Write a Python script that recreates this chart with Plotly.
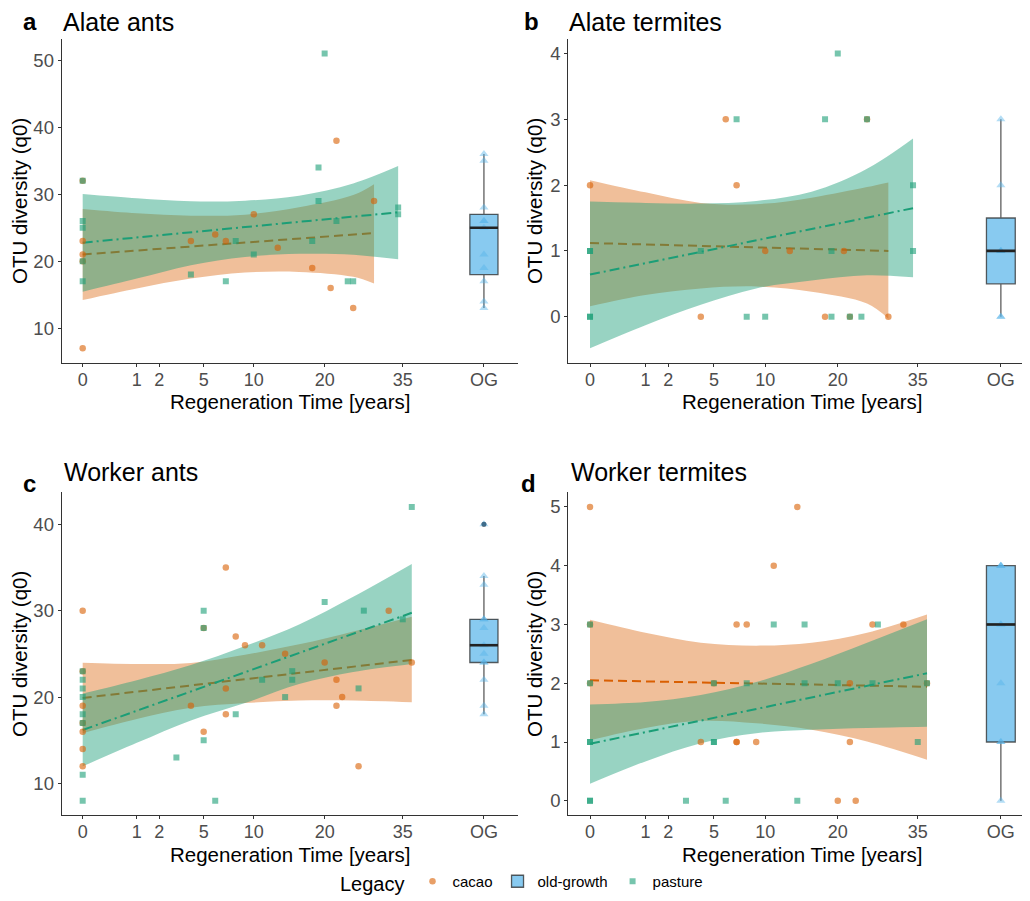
import numpy as np
import plotly.graph_objects as go

# ---------------- data ----------------
X_TICK_YEARS = [0, 1, 2, 5, 10, 20, 35, 55]
X_TICK_TEXT = ["0", "1", "2", "5", "10", "20", "35", "OG"]
OG_YEARS = 55  # position of the old-growth box on the sqrt-years axis

PANEL_LETTERS = ["a", "b", "c", "d"]
PANEL_TITLES = ["Alate ants", "Alate termites", "Worker ants", "Worker termites"]
X_TITLE = "Regeneration Time [years]"
Y_TITLE = "OTU diversity (q0)"

# panel a  - Alate ants
a_cacao_years = [0, 0, 0, 0, 0, 4, 6, 7, 10, 13, 18, 21, 22, 25, 29]
a_cacao_q0 = [32, 23, 21, 20, 7, 23, 24, 23, 27, 22, 19, 16, 38, 13, 29]
a_pasture_years = [0, 0, 0, 0, 0, 4, 7, 8, 10, 18, 19, 19, 20, 22, 24, 25, 34, 34]
a_pasture_q0 = [32, 26, 25, 20, 17, 18, 17, 23, 21, 23, 34, 29, 51, 26, 17, 17, 28, 27]
a_og_q0 = [13, 14, 17, 19, 21, 25, 26, 26, 28, 35, 36]
a_cacao_fit_years = [0, 29]
a_cacao_fit = [21.0, 24.2]
a_pasture_fit_years = [0, 34]
a_pasture_fit = [22.76, 27.3]
a_cacao_band_years = [0, 1, 4, 9, 16, 25, 29]
a_cacao_lo = [14.2, 15.93, 17.4, 18.3, 18.4, 17.67, 16.67]
a_cacao_hi = [27.8, 27.16, 26.8, 26.95, 28.05, 29.87, 31.5]
a_pasture_band_years = [0, 1, 4, 9, 16, 25, 34]
a_pasture_lo = [15.44, 17.4, 19.4, 20.63, 21.1, 20.98, 20.28]
a_pasture_hi = [30.02, 29.38, 28.94, 29.03, 29.77, 31.6, 34.2]

# panel b  - Alate termites
b_cacao_years = [0, 4, 6, 7, 10, 13, 18, 21, 22, 25, 29]
b_cacao_q0 = [2, 0, 3, 2, 1, 1, 0, 1, 0, 3, 0]
b_pasture_years = [0, 0, 0, 0, 4, 7, 8, 10, 18, 19, 19, 20, 22, 24, 25, 34, 34]
b_pasture_q0 = [1, 1, 0, 0, 1, 3, 0, 0, 3, 1, 0, 4, 0, 0, 3, 2, 1]
b_og_q0 = [0, 0, 1, 1, 1, 2, 3]
b_cacao_fit_years = [0, 29]
b_cacao_fit = [1.12, 1.0]
b_pasture_fit_years = [0, 34]
b_pasture_fit = [0.64, 1.65]
b_cacao_band_years = [0, 1, 4, 9, 16, 25, 29]
b_cacao_lo = [0.16, 0.33, 0.43, 0.46, 0.38, 0.20, -0.03]
b_cacao_hi = [2.075, 1.89, 1.73, 1.71, 1.81, 1.97, 2.04]
b_pasture_band_years = [0, 1, 4, 9, 16, 25, 34]
b_pasture_lo = [-0.48, -0.13, 0.18, 0.43, 0.55, 0.63, 0.60]
b_pasture_hi = [1.75, 1.73, 1.72, 1.76, 1.90, 2.25, 2.71]

# panel c  - Worker ants
c_cacao_years = [0, 0, 0, 0, 0, 0, 0, 4, 5, 5, 7, 7, 7, 8, 9, 11, 14, 20, 22, 22, 23, 26, 32, 37]
c_cacao_q0 = [30, 23, 19, 17, 16, 14, 12, 19, 16, 28, 35, 21, 18, 27, 26, 26, 25, 24, 22, 19, 20, 12, 30, 24]
c_pasture_years = [0, 0, 0, 0, 0, 0, 0, 0, 3, 5, 5, 5, 6, 8, 11, 14, 15, 15, 20, 26, 27, 35, 37]
c_pasture_q0 = [23, 22, 21, 20, 18, 17, 11, 8, 13, 30, 28, 15, 8, 18, 22, 20, 23, 22, 31, 21, 30, 29, 42]
c_og_q0 = [18, 19, 22, 24, 24, 25, 26, 28, 29, 29, 33, 34, 40]
c_cacao_fit_years = [0, 37]
c_cacao_fit = [19.9, 24.3]
c_pasture_fit_years = [0, 37]
c_pasture_fit = [16.19, 29.75]
c_cacao_band_years = [0, 1, 4, 9, 16, 25, 37]
c_cacao_lo = [15.81, 17.45, 18.75, 19.3, 19.6, 19.6, 19.4]
c_cacao_hi = [23.97, 23.83, 23.95, 24.9, 26.1, 27.6, 29.3]
c_pasture_band_years = [0, 1, 4, 9, 16, 25, 37]
c_pasture_lo = [11.98, 14.7, 17.3, 19.3, 21.5, 22.9, 23.84]
c_pasture_hi = [20.4, 21.95, 23.7, 25.9, 28.4, 31.6, 35.4]

# panel d  - Worker termites
d_cacao_years = [0, 0, 0, 4, 5, 7, 8, 7, 7, 9, 11, 14, 20, 22, 22, 23, 26, 32, 37]
d_cacao_q0 = [5, 3, 2, 1, 2, 3, 3, 1, 1, 1, 4, 5, 0, 1, 2, 0, 3, 3, 2]
d_pasture_years = [0, 0, 0, 0, 0, 0, 3, 5, 5, 5, 6, 8, 11, 14, 15, 15, 20, 26, 27, 35, 37]
d_pasture_q0 = [3, 2, 1, 1, 0, 0, 0, 2, 1, 1, 0, 2, 3, 0, 3, 2, 2, 2, 3, 1, 2]
d_og_q0 = [0, 1, 1, 2, 3, 3, 4, 4, 4]
d_cacao_fit_years = [0, 37]
d_cacao_fit = [2.05, 1.94]
d_pasture_fit_years = [0, 37]
d_pasture_fit = [0.97, 2.17]
d_cacao_band_years = [0, 1, 4, 9, 16, 25, 37]
d_cacao_lo = [1.03, 1.24, 1.36, 1.32, 1.21, 1.01, 0.70]
d_cacao_hi = [3.08, 2.86, 2.69, 2.64, 2.69, 2.86, 3.17]
d_pasture_band_years = [0, 1, 4, 9, 16, 25, 37]
d_pasture_lo = [0.29, 0.67, 0.98, 1.15, 1.21, 1.24, 1.26]
d_pasture_hi = [1.64, 1.68, 1.80, 2.02, 2.33, 2.69, 3.09]

Y_TICKS = [[10, 20, 30, 40, 50], [0, 1, 2, 3, 4], [10, 20, 30, 40], [0, 1, 2, 3, 4, 5]]
Y_RANGES = [[4.8, 53.2], [-0.704, 4.224], [6.3, 43.7], [-0.25, 5.25]]

PANELS = [
    dict(cx=a_cacao_years, cy=a_cacao_q0, px=a_pasture_years, py=a_pasture_q0, og=a_og_q0,
         cfx=a_cacao_fit_years, cf=a_cacao_fit, pfx=a_pasture_fit_years, pf=a_pasture_fit,
         cbx=a_cacao_band_years, clo=a_cacao_lo, chi=a_cacao_hi,
         pbx=a_pasture_band_years, plo=a_pasture_lo, phi=a_pasture_hi),
    dict(cx=b_cacao_years, cy=b_cacao_q0, px=b_pasture_years, py=b_pasture_q0, og=b_og_q0,
         cfx=b_cacao_fit_years, cf=b_cacao_fit, pfx=b_pasture_fit_years, pf=b_pasture_fit,
         cbx=b_cacao_band_years, clo=b_cacao_lo, chi=b_cacao_hi,
         pbx=b_pasture_band_years, plo=b_pasture_lo, phi=b_pasture_hi),
    dict(cx=c_cacao_years, cy=c_cacao_q0, px=c_pasture_years, py=c_pasture_q0, og=c_og_q0,
         cfx=c_cacao_fit_years, cf=c_cacao_fit, pfx=c_pasture_fit_years, pf=c_pasture_fit,
         cbx=c_cacao_band_years, clo=c_cacao_lo, chi=c_cacao_hi,
         pbx=c_pasture_band_years, plo=c_pasture_lo, phi=c_pasture_hi),
    dict(cx=d_cacao_years, cy=d_cacao_q0, px=d_pasture_years, py=d_pasture_q0, og=d_og_q0,
         cfx=d_cacao_fit_years, cf=d_cacao_fit, pfx=d_pasture_fit_years, pf=d_pasture_fit,
         cbx=d_cacao_band_years, clo=d_cacao_lo, chi=d_cacao_hi,
         pbx=d_pasture_band_years, plo=d_pasture_lo, phi=d_pasture_hi),
]

# ---------------- style ----------------
PAGE_OFFSET = 8            # default body margin of the html page
W, H = 1030 - PAGE_OFFSET, 901 - PAGE_OFFSET
FONT = "Liberation Sans, Arial, sans-serif"
CACAO = "#D95F02"
PASTURE = "#1B9E77"
CACAO_PT = "rgba(217,95,2,0.6)"
PASTURE_PT = "rgba(27,158,119,0.6)"
CACAO_BAND = "rgba(217,95,2,0.4)"
PASTURE_BAND = "rgba(27,158,119,0.45)"
BOX_W = 0.52


def px_x(v):
    return (v - PAGE_OFFSET) / W


def px_y(v):
    return 1 - (v - PAGE_OFFSET) / H


# panel plot boxes in screen pixels: (left, right, top, bottom)
BOXES = [(61.7, 518, 39, 365), (568.3, 1028, 39, 365),
         (61.7, 518, 495, 820), (568.3, 1028, 495, 820)]
X_RANGES = [[-0.388, 8.046], [-0.392, 7.906], [-0.388, 8.046], [-0.392, 7.906]]
LETTER_POS = [(21, 22), (522, 22), (21, 486), (519, 486)]
TITLE_POS = [(61, 22), (567, 22), (61.5, 475), (569, 475)]
XTITLE_X = [290, 802, 290, 802]
XTITLE_Y_OFFSET = 39   # px below the x axis line (centre of title)

sq = lambda v: np.sqrt(np.asarray(v, dtype=float))

fig = go.Figure()
og_s = float(np.sqrt(OG_YEARS))

for i, p in enumerate(PANELS):
    xa = "x" if i == 0 else f"x{i+1}"
    ya = "y" if i == 0 else f"y{i+1}"
    first = i == 0

    fig.add_trace(go.Box(
        x=[og_s] * len(p["og"]), y=p["og"], xaxis=xa, yaxis=ya,
        name="old-growth", legendrank=2, showlegend=first, legendgroup="og",
        width=BOX_W, fillcolor="rgba(86,180,233,0.7)", whiskerwidth=0,
        line=dict(color="rgba(40,40,40,0.75)", width=1.3),
        boxpoints="outliers", quartilemethod="inclusive",
        marker=dict(color="#2b3440", size=5, opacity=1), hoverinfo="skip"))

    fig.add_trace(go.Scatter(x=sq(p["cbx"]), y=p["clo"], xaxis=xa, yaxis=ya, mode="lines",
                             line=dict(width=0, shape="spline"), showlegend=False, hoverinfo="skip"))
    fig.add_trace(go.Scatter(x=sq(p["cbx"]), y=p["chi"], xaxis=xa, yaxis=ya, mode="lines",
                             line=dict(width=0, shape="spline"), fill="tonexty",
                             fillcolor=CACAO_BAND, showlegend=False, hoverinfo="skip"))
    fig.add_trace(go.Scatter(x=sq(p["cfx"]), y=p["cf"], xaxis=xa, yaxis=ya, mode="lines",
                             line=dict(color=CACAO, width=2, dash="9px,5px"),
                             showlegend=False, hoverinfo="skip"))
    fig.add_trace(go.Scatter(x=sq(p["pbx"]), y=p["plo"], xaxis=xa, yaxis=ya, mode="lines",
                             line=dict(width=0, shape="spline"), showlegend=False, hoverinfo="skip"))
    fig.add_trace(go.Scatter(x=sq(p["pbx"]), y=p["phi"], xaxis=xa, yaxis=ya, mode="lines",
                             line=dict(width=0, shape="spline"), fill="tonexty",
                             fillcolor=PASTURE_BAND, showlegend=False, hoverinfo="skip"))
    fig.add_trace(go.Scatter(x=sq(p["pfx"]), y=p["pf"], xaxis=xa, yaxis=ya, mode="lines",
                             line=dict(color=PASTURE, width=2, dash="10px,4px,2px,4px"),
                             showlegend=False, hoverinfo="skip"))

    fig.add_trace(go.Scatter(x=sq(p["cx"]), y=p["cy"], xaxis=xa, yaxis=ya, mode="markers",
                             name="cacao", legendrank=1, showlegend=first, legendgroup="cacao",
                             marker=dict(symbol="circle", size=6.5, color=CACAO_PT, line=dict(width=0)),
                             hoverinfo="skip"))
    fig.add_trace(go.Scatter(x=sq(p["px"]), y=p["py"], xaxis=xa, yaxis=ya, mode="markers",
                             name="pasture", legendrank=3, showlegend=first, legendgroup="pasture",
                             marker=dict(symbol="square", size=6, color=PASTURE_PT, line=dict(width=0)),
                             hoverinfo="skip"))

    fig.add_trace(go.Scatter(x=[og_s] * len(p["og"]), y=p["og"], xaxis=xa, yaxis=ya, mode="markers",
                             marker=dict(symbol="triangle-up", size=8, color="rgba(86,180,233,0.45)",
                                         line=dict(width=0)),
                             showlegend=False, hoverinfo="skip"))
    med = float(np.median(p["og"]))
    fig.add_trace(go.Scatter(x=[og_s - BOX_W / 2, og_s + BOX_W / 2], y=[med, med], xaxis=xa, yaxis=ya,
                             mode="lines", line=dict(color="#222222", width=2.6),
                             showlegend=False, hoverinfo="skip"))
    # empty trace on the overlaying tick-mark axis
    fig.add_trace(go.Scatter(x=[], y=[], xaxis=f"x{i+5}", yaxis=ya, showlegend=False, hoverinfo="skip"))

layout = dict(
    width=W, height=H, margin=dict(l=0, r=0, t=0, b=0),
    paper_bgcolor="white", plot_bgcolor="white",
    font=dict(family=FONT, color="black"),
    showlegend=True,
    legend=dict(orientation="h", x=px_x(523), xanchor="center", y=px_y(888), yanchor="middle",
                title=dict(text="Legacy", font=dict(size=20, family=FONT)),
                font=dict(size=15, family=FONT), itemwidth=30, bgcolor="rgba(0,0,0,0)"),
    annotations=[],
)

for i in range(4):
    l, r, t, b = BOXES[i]
    xk = "xaxis" if i == 0 else f"xaxis{i+1}"
    yk = "yaxis" if i == 0 else f"yaxis{i+1}"
    ya = "y" if i == 0 else f"y{i+1}"
    xa = "x" if i == 0 else f"x{i+1}"
    xdom = [px_x(l), min(1.0, px_x(r))]
    layout[xk] = dict(
        domain=xdom, anchor=ya, range=X_RANGES[i],
        tickvals=list(sq(X_TICK_YEARS)), ticktext=X_TICK_TEXT,
        showline=True, linecolor="#333333", linewidth=1.1, mirror=False,
        ticks="",
        showgrid=False, zeroline=False,
        tickfont=dict(size=18, color="#4D4D4D", family=FONT),
    )
    # tick marks only (overlaying axis)
    layout[f"xaxis{i+5}"] = dict(
        domain=xdom, anchor=ya, overlaying=xa, range=X_RANGES[i],
        tickvals=list(sq(X_TICK_YEARS)), showticklabels=False,
        showline=False, ticks="outside", ticklen=3, tickcolor="#333333", tickwidth=1,
        showgrid=False, zeroline=False, side="bottom",
    )
    layout[yk] = dict(
        domain=[px_y(b), px_y(t)], anchor=xa, range=Y_RANGES[i],
        tickvals=Y_TICKS[i],
        showline=True, linecolor="#333333", linewidth=1.1,
        ticks="outside", ticklen=3, tickcolor="#333333", tickwidth=1,
        showgrid=False, zeroline=False,
        tickfont=dict(size=18.5, color="#4D4D4D", family=FONT),
        title=dict(text=Y_TITLE, font=dict(size=20.5, family=FONT, color="black"), standoff=2),
    )
    layout["annotations"].append(dict(
        text=X_TITLE, x=px_x(XTITLE_X[i]), y=px_y(b + XTITLE_Y_OFFSET), xref="paper", yref="paper",
        xanchor="center", yanchor="middle", showarrow=False,
        font=dict(size=20.5, family=FONT, color="black")))
    lx, ly = LETTER_POS[i]
    tx, ty = TITLE_POS[i]
    layout["annotations"].append(dict(
        text=f"<b>{PANEL_LETTERS[i]}</b>", x=px_x(lx), y=px_y(ly), xref="paper", yref="paper",
        xanchor="left", yanchor="middle", showarrow=False, font=dict(size=24, family=FONT, color="black")))
    layout["annotations"].append(dict(
        text=PANEL_TITLES[i], x=px_x(tx), y=px_y(ty), xref="paper", yref="paper",
        xanchor="left", yanchor="middle", showarrow=False, font=dict(size=25, family=FONT, color="black")))

fig.update_layout(**layout)
fig.write_html("out.html")
